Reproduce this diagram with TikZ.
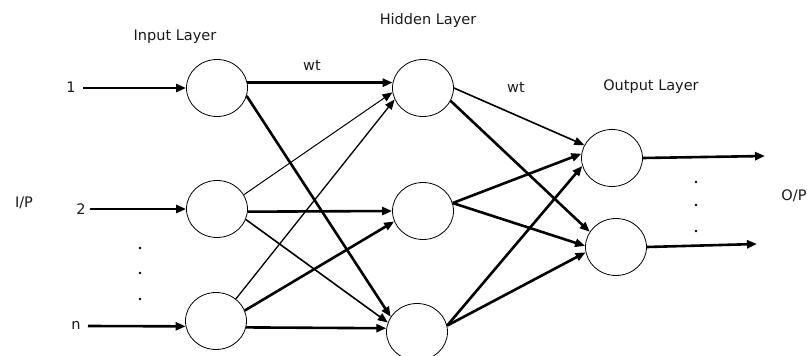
\documentclass[tikz,border=0pt]{standalone}
\usepackage{fontspec}
\setmainfont{DejaVu Sans}
\usetikzlibrary{arrows.meta,shapes.geometric}
\begin{document}
\begin{tikzpicture}[x=1pt,y=-1pt,
  neuron/.style={ellipse,draw,line width=0.8pt,minimum width=61pt,minimum height=57pt,inner sep=0pt},
  lbl/.style={font=\fontsize{14.5}{17}\selectfont,text=black!90,inner sep=0pt},
  conn/.style={-{Triangle[length=10pt,width=8pt]}},
  thickc/.style={conn,line width=2.6pt},
  medc/.style={conn,line width=1.6pt},
  thinc/.style={conn,line width=1pt},
  dotmark/.style={circle,fill=black,inner sep=0pt,minimum size=2.6pt}]
\useasboundingbox (0,0) rectangle (807,356);

% neurons
\node[neuron] (I1) at (217,88) {};
\node[neuron] (I2) at (217,209) {};
\node[neuron] (I3) at (216,321) {};
\node[neuron] (H1) at (423,88) {};
\node[neuron] (H2) at (423,211) {};
\node[neuron] (H3) at (417,332) {};
\node[neuron] (O1) at (612,158) {};
\node[neuron] (O2) at (616,247) {};

% labels
\node[lbl] (tin) at (175,37) {Input Layer};
\node[lbl] (thid) at (428,20) {Hidden Layer};
\node[lbl] (tout) at (651,87) {Output Layer};
\node[lbl] (w1) at (312,65) {wt};
\node[lbl] (w2) at (516,87) {wt};
\node[lbl] (ip) at (24,203) {I/P};
\node[lbl] (op) at (794,196) {O/P};
\node[lbl] (l1) at (71,87) {1};
\node[lbl] (l2) at (81,209) {2};
\node[lbl] (ln) at (76,325) {n};

% input arrows
\coordinate (s1) at (83,88);
\coordinate (s2) at (90,209);
\coordinate (s3) at (88,326);
\draw[thickc] (s1) -- (I1.west);
\draw[thickc] (s2) -- (I2.180);
\draw[thickc] (s3) -- (I3.190);

% input -> hidden
\draw[thickc] (I1.10) -- (H1.170);
\draw[thickc] (I1.-15) -- (H3.150);
\draw[thinc]  (I2.28) -- (H1.188);
\draw[thickc] (I2.-5) -- (H2.180);
\draw[medc]   (I2.-20) -- (H3.162);
\draw[thinc,line width=1.3pt] (I3.48) -- (H1.202);
\draw[thickc] (I3.20) -- (H2.200);
\draw[thickc] (I3.-12) -- (H3.173);

% hidden -> output
\draw[medc]   (H1.0) -- (O1.155);
\draw[thickc] (H1.-25) -- (O2.150);
\draw[thickc] (H2.15) -- (O1.172);
\draw[thickc] (H2.15) -- (O2.178);
\draw[thickc] (H3.12) -- (O1.195);
\draw[thickc] (H3.12) -- (O2.190);

% output arrows
\coordinate (e1) at (765,156);
\coordinate (e2) at (757,244);
\draw[thickc] (O1.east) -- (e1);
\draw[thickc] (O2.east) -- (e2);

% dots
\node[dotmark] (d1) at (140,248) {};
\node[dotmark] (d2) at (140,273) {};
\node[dotmark] (d3) at (140,299) {};
\node[dotmark] (d4) at (696,182) {};
\node[dotmark] (d5) at (696,205) {};
\node[dotmark] (d6) at (696,231) {};
\end{tikzpicture}
\end{document}
